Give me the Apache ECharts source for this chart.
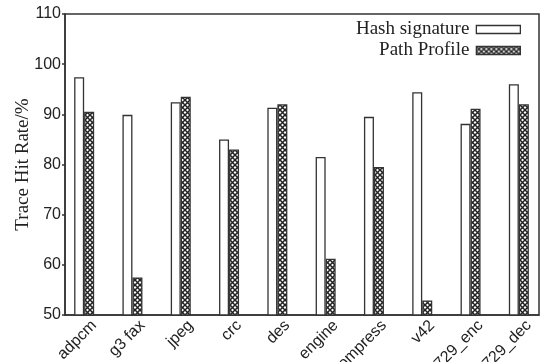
<!DOCTYPE html>
<html>
<head>
<meta charset="utf-8">
<script src="https://cdn.jsdelivr.net/npm/echarts@6/dist/echarts.min.js"></script>
<style>
html,body{margin:0;padding:0;background:#fff;}
#c{width:550px;height:362px;}
</style>
</head>
<body>
<div id="c"></div>
<script>
var categories = ['adpcm','g3 fax','jpeg','crc','des','engine','compress','v42','g729_enc','g729_dec'];
var hashSignature = [97.4, 89.9, 92.4, 85.0, 91.3, 81.5, 89.5, 94.4, 88.1, 96.0];
var pathProfile = [90.5, 57.5, 93.5, 83.0, 92.0, 61.2, 79.5, 52.9, 91.1, 92.0];
var yTicks = [50, 60, 70, 80, 90, 100, 110];

function makePattern() {
  var c = document.createElement('canvas');
  c.width = 5; c.height = 5;
  var ctx = c.getContext('2d');
  ctx.fillStyle = '#fff';
  ctx.fillRect(0, 0, 5, 5);
  ctx.strokeStyle = '#222';
  ctx.lineWidth = 1.5;
  ctx.beginPath();
  ctx.moveTo(0, 0); ctx.lineTo(5, 5);
  ctx.moveTo(5, 0); ctx.lineTo(0, 5);
  ctx.stroke();
  return c;
}

var chart = echarts.init(document.getElementById('c'), null, {renderer: 'canvas'});
var axisColor = '#333';
var yMin = yTicks[0], yMax = yTicks[yTicks.length - 1];
function hiddenY(gi) {
  return {type: 'value', gridIndex: gi, min: yMin, max: yMax, interval: 10, show: false, splitLine: {show: false}};
}
chart.setOption({
  animation: false,
  backgroundColor: '#fff',
  grid: [
    {left: 65, right: 11, top: 14, bottom: 47, outerBoundsMode: 'none', containLabel: false,
     show: true, borderColor: axisColor, borderWidth: 1.5, backgroundColor: 'transparent'},
    {left: 60, right: 7, top: 14, bottom: 47, outerBoundsMode: 'none', containLabel: false},
    {left: 70, right: -3, top: 14, bottom: 47, outerBoundsMode: 'none', containLabel: false}
  ],
  legend: {
    orient: 'vertical', right: 24, top: 15, align: 'right',
    icon: 'rect',
    itemWidth: 44, itemHeight: 8, itemGap: 2,
    textStyle: {fontFamily: 'Liberation Serif', fontSize: 19, color: '#222', padding: [0, 2, 0, 0]},
    itemStyle: {borderColor: '#333', borderWidth: 1.3},
    data: ['Hash signature', 'Path Profile']
  },
  xAxis: [
    {type: 'category', gridIndex: 0, data: categories,
     axisLine: {lineStyle: {color: axisColor, width: 1.5}},
     axisTick: {show: false}, axisLabel: {show: false}},
    {type: 'category', gridIndex: 1, data: categories,
     axisLine: {show: false}, axisTick: {show: false}, axisLabel: {show: false}},
    {type: 'category', gridIndex: 2, data: categories,
     axisLine: {show: false}, axisTick: {show: false},
     axisLabel: {rotate: 45, interval: 0, margin: 8, fontFamily: 'Liberation Sans', fontSize: 16, color: '#222'}}
  ],
  yAxis: [
    {type: 'value', gridIndex: 0, min: yMin, max: yMax, interval: 10,
     name: 'Trace Hit Rate/%', nameLocation: 'middle', nameGap: 32, nameMoveOverlap: false,
     nameTextStyle: {fontFamily: 'Liberation Serif', fontSize: 19, color: '#222'},
     axisLine: {show: true, lineStyle: {color: axisColor, width: 1.5}},
     axisTick: {show: true, inside: false, length: 3, lineStyle: {color: axisColor, width: 1.5}},
     axisLabel: {margin: 4, fontFamily: 'Liberation Sans', fontSize: 16, color: '#222'},
     splitLine: {show: false}},
    hiddenY(1),
    hiddenY(2)
  ],
  series: [
    {name: 'Hash signature', type: 'bar', xAxisIndex: 1, yAxisIndex: 1, data: hashSignature, barWidth: 10, barGap: '0%',
     itemStyle: {color: '#fff', borderColor: '#333', borderWidth: 1.3}},
    {name: 'Path Profile', type: 'bar', xAxisIndex: 1, yAxisIndex: 1, data: pathProfile, barWidth: 10,
     itemStyle: {color: {image: makePattern(), repeat: 'repeat'}, borderColor: '#333', borderWidth: 1.3}}
  ]
});
</script>
</body>
</html>
